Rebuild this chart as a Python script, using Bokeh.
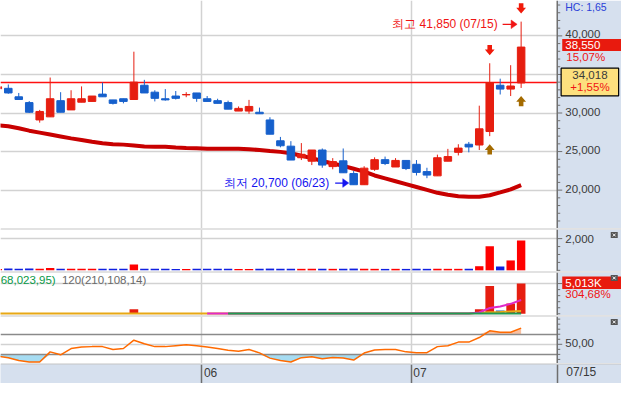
from bokeh.plotting import figure
from bokeh.layouts import column
from bokeh.models import Range1d
from bokeh.core.properties import value
from bokeh.embed import file_html
from bokeh.resources import INLINE

nan = float("nan")

# ---------------- data ----------------
day_index = list(range(-1, 50))
open_price = [33150, 33200, 32100, 31350, 29100, 29500, 31600, 30400, 31400, 31500,
              32450, 31700, 31850, 31750, 33600, 32700, 31850, 32200, 32350, 32600,
              31850, 31600, 31350, 30250, 30250, 30100, 29100, 26400, 25700, 24200,
              23750, 25200, 23050, 23800, 22150, 20700, 22700, 23950, 23000, 23850,
              23350, 22400, 21850, 23750, 24900, 25950, 25850, 27600, 33600, 33100,
              33900]
high_price = [33450, 33700, 32600, 31550, 30400, 34600, 32700, 32950, 33450, 32200,
              33950, 31700, 31850, 37950, 34300, 32950, 33100, 32850, 32700, 32600,
              32200, 31850, 31600, 30850, 31700, 30700, 29450, 26900, 26350, 26100,
              25200, 25400, 24150, 25400, 22500, 23100, 24250, 24350, 24150, 23850,
              23900, 22900, 24600, 25350, 25950, 26250, 30950, 36450, 34450, 36200,
              41850]
low_price = [33100, 32500, 31750, 30000, 28750, 29500, 30100, 30400, 31400, 31500,
             32100, 31100, 31250, 31750, 32600, 31500, 31600, 31750, 32050, 31450,
             31500, 31250, 30500, 30250, 29900, 29900, 27250, 25550, 23900, 23900,
             23250, 22900, 22700, 22250, 20700, 20700, 22500, 23250, 23000, 22600,
             21900, 21550, 21850, 23750, 24500, 24900, 25200, 27000, 32400, 32200,
             33250]
close_price = [33400, 32600, 31750, 30100, 30200, 31850, 30100, 31850, 31850, 32200,
               32100, 31250, 31500, 34000, 32600, 31900, 31700, 31900, 32400, 31900,
               31500, 31250, 30500, 30600, 30850, 29900, 27250, 25750, 23900, 24650,
               25200, 23250, 23700, 22250, 20700, 22850, 23950, 23450, 23850, 22800,
               22300, 21950, 24200, 24350, 25450, 25600, 27950, 33950, 33100, 33500,
               38550]
ma_price = [28400, 28275, 28025, 27710, 27460, 27210, 26960, 26710, 26500, 26275,
            26090, 25960, 25900, 25775, 25650, 25625, 25625, 25525, 25460, 25425,
            25375, 25375, 25375, 25375, 25310, 25190, 25060, 24960, 24775, 24460,
            24150, 23775, 23460, 23150, 22775, 22400, 21900, 21525, 21150, 20775,
            20400, 20025, 19650, 19400, 19210, 19150, 19150, 19340, 19710, 20090,
            20650]
volume_k = [90, 110, 100, 110, 100, 140, 100, 100, 95, 100,
            100, 100, 95, 364, 100, 100, 95, 90, 90, 100,
            95, 95, 100, 90, 90, 100, 110, 100, 100, 95,
            100, 100, 95, 100, 110, 100, 95, 90, 95, 90,
            100, 95, 100, 95, 95, 100, 260, 1515, 242, 624,
            1879]
amount_k = [0, 0, 0, 0, 0, 0, 0, 0, 0, 0,
            0, 0, 0, 743, 0, 0, 0, 0, 0, 0,
            0, 0, 0, 0, 0, 0, 0, 0, 0, 0,
            0, 0, 0, 0, 0, 0, 0, 0, 0, 0,
            0, 0, 0, 0, 0, 0, 743, 4586, 538, 1692,
            5013]
amount_avg_a = [60, 60, 60, 60, 60, 60, 60, 60, 60, 60,
                60, 60, 60, 60, 60, 60, 60, 60, 60, 60,
                60, 60, 60, 60, 60, 60, 60, 60, 60, 60,
                60, 60, 60, 60, 60, 60, 60, 60, 60, 60,
                60, 60, 60, 60, 60, 60, 190, 250, 310, 380,
                470]
amount_avg_b = [nan, nan, nan, nan, nan, nan, nan, nan, nan, nan,
                nan, nan, nan, nan, nan, nan, nan, nan, nan, nan,
                60, 60, 60, 60, 60, 60, 60, 60, 60, 60,
                60, 60, 60, 60, 60, 60, 60, 60, 60, 60,
                60, 60, 60, 60, 60, 60, 221, 949, 1218, 1645,
                2277]
amount_avg_c = [nan, nan, nan, nan, nan, nan, nan, nan, nan, nan,
                nan, nan, nan, nan, nan, nan, nan, nan, nan, nan,
                nan, nan, 40, 40, 40, 40, 40, 40, 40, 40,
                40, 40, 40, 40, 40, 40, 40, 40, 40, 40,
                40, 40, 40, 40, 40, 40, 40, 40, 40, 40,
                40]
osc_value = [26.4, 23.5, 17.8, 15.0, 15.0, 35.0, 29.2, 41.6, 44.5, 45.4,
             45.4, 39.7, 41.6, 58.2, 51.1, 45.4, 45.4, 47.3, 49.2, 47.3,
             44.5, 41.6, 38.4, 36.3, 39.7, 33.0, 22.6, 17.8, 15.0, 23.5,
             25.4, 21.2, 23.9, 22.6, 18.8, 32.7, 38.8, 39.7, 39.7, 35.0,
             33.4, 33.4, 45.4, 47.3, 54.4, 54.4, 63.5, 76.9, 74.0, 74.0,
             82.2]

month_first_idx = [19, 39]
month_labels = ["06", "07"]
last_date = "07/15"
low_date = "06/23"
signal_idx = [46, 49]
price_ticks = [20000, 25000, 30000, 35000, 40000]
volume_ticks = [2000]
amount_grid = [5000]
osc_levels = [70, 30]
osc_mid = [50]
osc_tick_labels = ["50,00"]
ref_price = 34018
ref_change = "+1,55%"
prev_close = 33500
amount_label = "5,013K"
amount_change = "304,68%"
header_text = "HC: 1,65"
legend_a = "68,023,95)"
legend_b = "120(210,108,14)"

# ---------------- styles ----------------
FONT = "Liberation Sans"
FS = 11.5
UP, DN = "#e61e10", "#1660cc"
VUP, VDN = "#ff0000", "#1020e0"
PANEL_BG = "#d6e0ee"
GRID = "#d2d2d2"
DARK = "#8a8a8a"
SEP = "#8c8c8c"
AXIS_C = "#707070"
LABEL_C = "#3a3a3a"
RED_T = "#f01414"
BLUE_T = "#1414f0"

W = 621
X0, X1 = -0.745, 58.59
IPX = (X1 - X0) / W
AXIS_X = 52.45
xr = Range1d(X0, X1)
month_lines = [m - 0.5 for m in month_first_idx]


def make_panel(h, y0, y1, top_border, bg="white"):
    p = figure(width=W, height=h, x_range=xr, y_range=Range1d(y0, y1),
               output_backend="svg", toolbar_location=None, title=None,
               x_axis_type=None, y_axis_type=None,
               min_border_left=0, min_border_right=0, min_border_bottom=0,
               min_border_top=1 if top_border else 0)
    p.outline_line_color = None
    p.background_fill_color = bg
    p.border_fill_color = SEP
    frame_h = h - (1 if top_border else 0)
    return p, (y1 - y0) / frame_h


def txt(p, x, y, s, color, size=FS, align="left", baseline="middle"):
    p.text(x=[x], y=[y], text=[s], text_color=color, text_font=value(FONT),
           text_font_size=f"{size}px", text_align=align, text_baseline=baseline)


def right_area(p, y0, y1, majors, minors):
    p.quad(left=[AXIS_X], right=[X1], bottom=[y0], top=[y1],
           fill_color=PANEL_BG, line_color=None)
    p.segment(x0=[AXIS_X], y0=[y0], x1=[AXIS_X], y1=[y1], line_color=AXIS_C, line_width=1.5)
    if majors:
        p.segment(x0=[AXIS_X] * len(majors), y0=majors, x1=[AXIS_X + 5 * IPX] * len(majors),
                  y1=majors, line_color=AXIS_C, line_width=1)
    if minors:
        p.segment(x0=[AXIS_X] * len(minors), y0=minors, x1=[AXIS_X + 3 * IPX] * len(minors),
                  y1=minors, line_color=AXIS_C, line_width=1)


def close_btn(p, y1, ppx):
    bx = AXIS_X + 57 * IPX
    by = y1 - 5.5 * ppx
    p.rect(x=[bx], y=[by], width=7, height=6, width_units="screen", height_units="screen",
           fill_color="#555555", line_color=None)
    p.scatter(x=[bx], y=[by], marker="x", size=4, line_color="white", line_width=1)


def h_arrow(p, x_tail, x_tip, y, ppx, color):
    p.segment(x0=[x_tail], y0=[y], x1=[x_tip - 4 * IPX], y1=[y], line_color=color, line_width=1.3)
    p.patch(x=[x_tip, x_tip - 6 * IPX, x_tip - 6 * IPX], y=[y, y + 4.3 * ppx, y - 4.3 * ppx],
            fill_color=color, line_color=color, line_width=0.5)


colors = [UP if c > o else DN for o, c in zip(open_price, close_price)]
vcolors = [VUP if c > o else VDN for o, c in zip(open_price, close_price)]

# ---------------- price panel ----------------
P_LO, P_HI = 15025, 44587.5
p1, ppx1 = make_panel(228, P_LO, P_HI, False)
p1.hspan(y=price_ticks, line_color=GRID, line_width=1.3)
p1.vspan(x=month_lines, line_color=GRID, line_width=1.5)
p1.hspan(y=[ref_price], line_color="#ff1010", line_width=1.3)
p1.line(day_index, ma_price, line_color="#c80000", line_width=4)
p1.segment(x0=day_index, y0=low_price, x1=day_index, y1=high_price, line_color=colors, line_width=1)
p1.vbar(x=day_index, width=0.72,
        top=[max(o, c) for o, c in zip(open_price, close_price)],
        bottom=[min(o, c) for o, c in zip(open_price, close_price)],
        fill_color=colors, line_color=colors, line_width=1)

# signal arrows
dx_tri, dx_stem = 4.9 * IPX, 2.3 * IPX
down_x, down_y, up_x, up_y = [], [], [], []
for i in signal_idx:
    k = day_index.index(i)
    t = high_price[k] + 8 * ppx1
    down_x.append([i, i - dx_tri, i - dx_stem, i - dx_stem, i + dx_stem, i + dx_stem, i + dx_tri])
    down_y.append([t, t + 5.8 * ppx1, t + 5.8 * ppx1, t + 10.3 * ppx1, t + 10.3 * ppx1,
                   t + 5.8 * ppx1, t + 5.8 * ppx1])
    b = low_price[k] - 8 * ppx1
    up_x.append([i, i - dx_tri, i - dx_stem, i - dx_stem, i + dx_stem, i + dx_stem, i + dx_tri])
    up_y.append([b, b - 5.8 * ppx1, b - 5.8 * ppx1, b - 10.3 * ppx1, b - 10.3 * ppx1,
                 b - 5.8 * ppx1, b - 5.8 * ppx1])
p1.patches(down_x, down_y, fill_color="#f01a0a", line_color=None)
p1.patches(up_x, up_y, fill_color="#a46b00", line_color=None)

# high / low annotations
hi_val = max(high_price)
hi_i = day_index[high_price.index(hi_val)]
lo_val = min(low_price)
lo_i = day_index[low_price.index(lo_val)]
y_hi = hi_val - 2.7 * ppx1
txt(p1, hi_i - 23.5 * IPX, y_hi, f"최고 {hi_val:,} ({last_date})", RED_T, 12, align="right")
h_arrow(p1, hi_i - 18.5 * IPX, hi_i - 4 * IPX, y_hi, ppx1, RED_T)
y_lo = lo_val + 1.7 * ppx1
txt(p1, lo_i - 24.4 * IPX, y_lo, f"최저 {lo_val:,} ({low_date})", BLUE_T, 12, align="right")
h_arrow(p1, lo_i - 18.5 * IPX, lo_i - 4.9 * IPX, y_lo, ppx1, BLUE_T)

# right axis area
minor_p = [v for v in range(16000, 45000, 1000) if v not in price_ticks]
right_area(p1, P_LO, P_HI, price_ticks, minor_p)
for v in price_ticks:
    txt(p1, AXIS_X + 8 * IPX, v + 1.5 * ppx1, f"{v:,}", LABEL_C)
last_close = close_price[-1]
pct = (last_close / prev_close - 1) * 100
yc = last_close + 2 * ppx1
p1.quad(left=[AXIS_X + 5 * IPX], right=[X1], bottom=[yc - 6 * ppx1], top=[yc + 6 * ppx1],
        fill_color="#e81a0e", line_color=None)
txt(p1, AXIS_X + 8 * IPX, yc, f"{last_close:,}", "white")
txt(p1, AXIS_X + 9 * IPX, last_close - 9.8 * ppx1, f"{pct:.2f}%".replace(".", ","), RED_T)
p1.quad(left=[AXIS_X + 3.9 * IPX], right=[AXIS_X + 61.4 * IPX],
        bottom=[ref_price - 13.8 * ppx1], top=[ref_price + 13.8 * ppx1],
        fill_color="#fde07e", line_color="black", line_width=1.2)
txt(p1, AXIS_X + 32.7 * IPX, ref_price + 6.6 * ppx1, f"{ref_price:,}", LABEL_C, align="center")
txt(p1, AXIS_X + 32.7 * IPX, ref_price - 5.2 * ppx1, ref_change, RED_T, align="center")
txt(p1, AXIS_X + 8 * IPX, P_HI - 6.5 * ppx1, header_text, "#2a40d8", 10.5)

# ---------------- volume panel ----------------
V_LO, V_HI = -73, 2575
p2, ppx2 = make_panel(43, V_LO, V_HI, True)
p2.hspan(y=volume_ticks, line_color=GRID, line_width=1.3)
p2.vspan(x=month_lines, line_color=GRID, line_width=1.5)
p2.vbar(x=day_index, width=0.8, top=volume_k, bottom=0, fill_color=vcolors, line_color=None)
right_area(p2, V_LO, V_HI, volume_ticks, [0, 500, 1000, 1500])
for v in volume_ticks:
    txt(p2, AXIS_X + 8 * IPX, v, f"{v:,}", LABEL_C)
close_btn(p2, V_HI, ppx2)

# ---------------- amount panel ----------------
A_LO, A_HI = -285, 6832
p3, ppx3 = make_panel(44, A_LO, A_HI, True)
p3.hspan(y=amount_grid, line_color=GRID, line_width=1.3)
p3.vspan(x=month_lines, line_color=GRID, line_width=1.5)
p3.vbar(x=day_index, width=0.83, top=amount_k, bottom=0, fill_color=colors, line_color=None)
p3.line(day_index, amount_avg_a, line_color="#e8a814", line_width=2)
p3.line(day_index, amount_avg_b, line_color="#e02ac8", line_width=2)
p3.line(day_index, amount_avg_c, line_color="#1f9a52", line_width=2)
txt(p3, X0 + 0.2 * IPX, A_HI - 7.5 * ppx3, legend_a, "#0a9a48")
txt(p3, X0 + 61.4 * IPX, A_HI - 7.5 * ppx3, legend_b, "#6a6a6a")
right_area(p3, A_LO, A_HI, amount_grid, [0, 1000, 2000, 3000, 4000])
a_last = amount_k[-1]
ya = a_last + 0.7 * ppx3
p3.quad(left=[AXIS_X + 5 * IPX], right=[X1], bottom=[ya - 6.3 * ppx3], top=[ya + 6.3 * ppx3],
        fill_color="#e81a0e", line_color=None)
txt(p3, AXIS_X + 8 * IPX, ya, amount_label, "white")
txt(p3, AXIS_X + 8 * IPX, ya - 11 * ppx3, amount_change, RED_T)
close_btn(p3, A_HI, ppx3)

# ---------------- oscillator panel ----------------
O_LO, O_HI = 11.9, 105.2
p4, ppx4 = make_panel(48, O_LO, O_HI, True)
p4.hspan(y=osc_mid, line_color=GRID, line_width=1.3)
p4.vspan(x=month_lines, line_color=GRID, line_width=1.5)
lo_lvl, hi_lvl = min(osc_levels), max(osc_levels)
p4.varea(x=day_index, y1=[min(v, lo_lvl) for v in osc_value], y2=[lo_lvl] * len(osc_value),
         fill_color="#a6dcf2")
p4.varea(x=day_index, y1=[hi_lvl] * len(osc_value), y2=[max(v, hi_lvl) for v in osc_value],
         fill_color="#f9c0a0")
p4.hspan(y=osc_levels, line_color=DARK, line_width=1.5)
p4.line(day_index, osc_value, line_color="#ff6a00", line_width=1.5)
right_area(p4, O_LO, O_HI, osc_mid, [20, 30, 40, 60, 70, 80, 90, 100])
for v, s in zip(osc_mid, osc_tick_labels):
    txt(p4, AXIS_X + 8 * IPX, v + 1 * ppx4, s, LABEL_C)
close_btn(p4, O_HI, ppx4)

# ---------------- date strip ----------------
p5, ppx5 = make_panel(20, 0, 1, True, bg=PANEL_BG)
p5.vspan(x=month_lines + [AXIS_X], line_color="#6e6e6e", line_width=1.5)
for m, lab in zip(month_lines, month_labels):
    txt(p5, m + 2 * IPX, 0.6, lab, LABEL_C, 12)
txt(p5, AXIS_X + 9 * IPX, 0.6, last_date, LABEL_C, 12)

layout = column(p1, p2, p3, p4, p5)
open("out.html", "w").write(file_html(layout, INLINE))
